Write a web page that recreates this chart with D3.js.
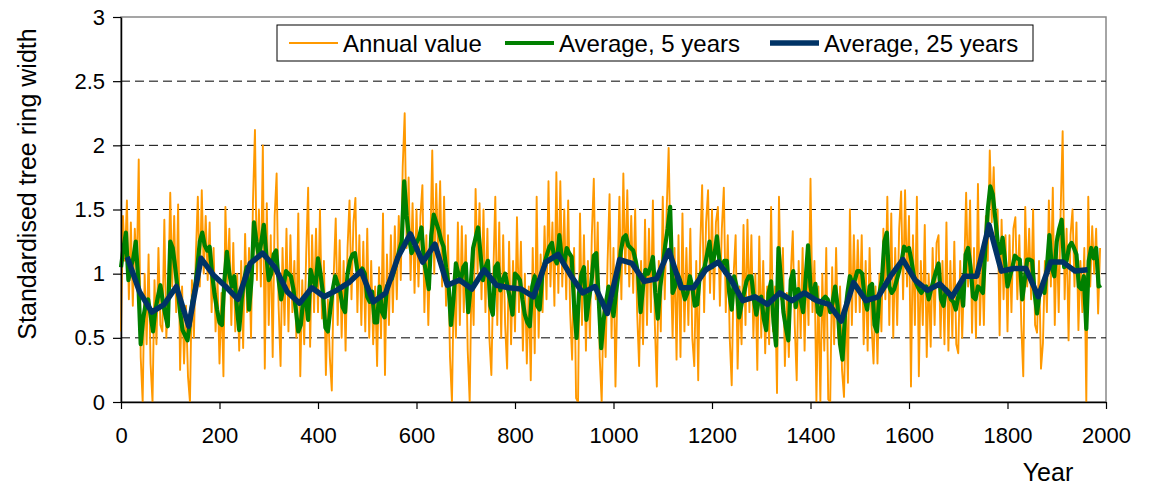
<!DOCTYPE html>
<html>
<head>
<meta charset="utf-8">
<script src="https://cdn.jsdelivr.net/npm/d3@7"></script>
<style>
	body { margin: 0; background: #fff; }
	text { font-family: "Liberation Sans", Arial, sans-serif; }
</style>
</head>
<body>
<svg id="chart" width="1149" height="487"></svg>
<script>
// annual values, every 4th year
const annualStep = 4;
const annualValues = [
	0.55,1.45,1.1,1.57,0.8,1.4,0.75,1.35,1.0,1.89,0.35,0.0,1.0,0.45,1.15,0.3,0.0,0.95,0.45,1.2,0.6,0.55,1.42,0.5,0.85,
	1.63,0.9,1.45,0.7,1.54,0.25,0.9,0.3,0.75,0.2,0.0,0.95,0.5,1.15,1.6,0.9,1.65,1.0,1.45,0.95,1.4,0.7,1.2,0.55,0.95,
	0.3,0.85,0.2,1.52,0.9,1.35,0.6,1.24,0.55,1.0,0.4,1.1,0.42,1.31,0.7,1.2,0.5,1.57,2.12,0.95,1.5,0.9,2.0,0.26,1.55,
	0.6,1.3,0.35,1.45,1.78,0.75,0.28,1.2,0.6,1.35,0.55,1.3,0.7,1.1,0.5,1.47,0.2,0.95,0.45,1.15,1.67,0.43,1.3,0.7,1.35,
	0.7,1.5,0.65,1.1,0.21,0.8,0.35,0.09,1.0,1.43,0.6,1.26,0.5,1.1,0.4,1.2,1.57,0.8,1.4,1.59,0.7,1.3,0.6,1.25,0.55,
	1.35,0.5,1.1,0.45,0.9,0.28,1.05,0.5,1.47,0.21,1.15,0.6,1.3,0.7,1.37,0.8,1.45,0.95,1.83,2.25,1.2,1.75,0.95,1.55,0.85,
	1.5,0.9,1.45,1.69,0.7,1.3,0.6,1.2,1.96,1.0,1.7,1.1,1.72,0.9,1.6,0.75,1.3,0.35,0.0,1.0,0.5,1.4,0.6,1.37,0.7,
	1.3,0.4,0.0,1.05,0.6,1.66,1.0,1.55,0.8,1.5,0.7,1.35,0.5,0.21,1.0,1.6,0.6,1.4,0.5,1.3,0.6,0.26,1.25,0.45,1.1,
	0.55,1.44,0.7,1.25,0.4,1.0,0.3,0.9,0.17,1.2,0.38,1.6,0.5,1.15,0.7,1.37,0.8,1.72,0.9,1.4,0.75,1.79,0.85,1.72,0.9,
	1.5,0.8,1.57,0.7,0.33,1.2,0.03,0.0,1.47,0.6,1.3,0.4,1.1,0.5,1.3,1.74,0.8,1.4,0.35,0.0,0.8,0.35,1.1,1.62,0.5,
	1.2,0.12,0.9,1.6,0.8,1.78,1.0,1.65,0.9,1.45,0.85,1.5,0.7,0.28,1.1,0.45,1.42,0.6,1.35,0.7,1.57,0.6,0.12,1.1,0.55,
	1.6,0.8,1.5,1.98,1.1,0.5,1.2,0.33,1.3,0.35,1.47,0.55,1.2,0.6,1.35,0.5,0.28,1.1,0.17,1.2,1.69,0.7,1.4,1.65,0.85,
	1.5,0.8,1.4,1.52,0.75,1.35,1.67,0.7,1.3,0.5,0.13,1.0,1.3,0.26,0.9,0.45,1.38,0.6,1.42,0.7,1.3,0.5,1.0,0.25,1.29,
	0.5,1.1,0.38,0.9,0.45,1.52,0.55,0.9,0.07,1.6,0.8,1.2,0.28,0.85,0.35,1.0,1.33,0.6,0.17,1.1,0.5,1.2,0.4,1.1,0.6,
	1.74,0.7,1.1,0.0,0.9,0.0,1.0,0.4,1.2,0.02,0.0,1.05,0.45,1.2,0.5,0.9,0.25,0.04,0.8,0.15,1.5,0.6,1.3,0.7,1.26,
	0.7,1.3,0.45,1.1,0.4,1.2,0.6,0.3,0.9,0.3,1.0,0.55,1.35,0.8,1.6,0.6,1.47,0.5,1.2,0.6,1.35,1.64,0.8,1.65,0.9,
	1.45,0.12,1.3,0.6,1.6,0.2,1.1,0.6,1.38,0.35,1.0,0.43,1.2,0.6,1.24,1.3,0.5,1.1,0.45,1.4,0.4,1.1,0.5,1.25,0.45,
	0.38,1.1,0.5,1.0,1.63,0.9,1.57,0.54,1.2,0.5,1.7,0.6,1.15,0.6,1.45,1.1,1.96,1.4,1.83,1.2,1.5,0.52,1.42,0.8,1.3,
	0.55,1.3,0.7,1.35,1.44,0.8,1.3,0.6,0.2,1.52,0.9,1.35,0.8,1.5,0.6,0.54,1.1,0.26,0.46,1.1,0.7,1.57,0.9,1.67,0.6,
	1.3,0.7,1.5,2.11,0.8,1.35,0.48,1.3,1.5,0.9,1.4,0.56,1.1,0.7,1.2,0.0,1.6,0.9,1.37,1.0,1.35,0.69,1.2
];

// 5 year average, one value every 5 years from year 0
const avg5Step = 5;
const avg5Values = [
	1.05,1.2,1.32,0.95,1.05,1.12,1.25,0.95,0.45,0.65,0.76,0.8,0.68,0.55,0.72,0.82,0.91,0.78,0.68,0.59,
	1.25,1.2,1.05,0.88,0.7,0.56,0.52,0.48,0.62,0.78,0.88,1.05,1.25,1.32,1.22,1.18,1.21,1.0,0.84,0.72,
	0.62,0.6,0.95,1.17,1.0,0.9,0.98,0.75,0.56,0.8,0.95,1.05,0.72,0.95,1.4,1.25,1.13,1.25,1.38,1.15,
	0.95,1.0,1.15,1.18,0.95,0.8,0.9,1.02,1.0,0.98,0.88,0.72,0.55,0.6,0.8,0.82,0.64,1.03,0.95,0.9,
	1.12,1.0,0.85,0.58,0.55,0.72,0.88,0.98,0.92,0.86,0.74,0.7,1.0,1.1,1.15,1.16,1.02,1.0,1.04,1.0,
	0.82,0.78,0.86,0.62,0.62,0.9,0.7,0.66,0.9,0.94,0.96,1.03,1.1,1.18,1.25,1.72,1.45,1.28,1.16,1.2,
	1.24,1.28,1.36,1.1,1.0,0.88,1.3,1.46,1.4,1.34,1.26,1.21,1.05,0.92,0.6,0.8,1.08,1.0,0.94,1.05,
	1.08,0.7,0.9,1.2,1.28,1.36,1.15,0.95,1.05,1.1,0.75,0.68,1.05,1.08,0.87,0.95,1.0,0.9,0.8,0.68,
	1.0,0.98,0.95,0.8,0.68,0.62,0.59,0.9,0.98,0.75,0.72,0.98,1.08,1.15,1.21,1.24,1.12,1.08,1.3,1.12,
	1.08,1.2,1.16,1.13,0.75,0.5,0.85,1.0,1.05,0.64,0.8,0.92,1.14,1.16,0.8,0.42,0.64,0.78,0.9,0.8,
	0.67,0.85,1.0,1.18,1.28,1.3,1.22,1.2,1.18,1.1,1.0,0.7,0.9,1.03,1.0,1.05,1.13,0.85,0.65,0.9,
	1.05,1.22,1.35,1.52,0.85,0.9,1.0,0.95,0.88,0.8,0.85,0.98,0.9,0.75,0.76,0.98,1.02,1.05,1.15,1.25,
	1.05,1.15,1.29,1.1,1.05,1.1,1.1,0.85,0.72,0.98,0.9,0.66,0.76,0.85,0.94,0.98,0.98,0.8,0.68,0.8,
	0.82,0.65,0.56,0.85,0.94,0.62,0.44,1.2,0.95,0.7,0.58,0.48,0.95,1.02,0.74,0.88,0.8,0.7,0.95,1.22,
	0.9,0.8,0.92,0.7,0.68,0.8,0.82,0.8,0.7,0.78,0.9,0.75,0.45,0.33,0.68,0.85,0.98,0.92,0.95,1.02,
	1.02,1.0,0.8,0.72,0.9,0.92,0.6,0.55,0.85,0.95,1.25,1.32,0.9,0.85,0.88,0.95,1.02,1.1,1.21,1.18,
	1.2,1.1,0.98,0.92,0.88,0.85,0.88,0.9,0.8,0.88,0.95,1.02,1.08,0.8,0.75,0.88,0.86,0.8,0.78,0.72,
	0.82,0.9,0.75,1.15,1.2,1.05,0.82,0.8,0.9,0.88,0.85,1.2,1.5,1.68,1.62,1.44,1.25,1.16,1.28,1.1,
	0.9,0.98,1.05,1.14,1.12,1.11,0.8,0.95,1.11,1.11,1.1,0.85,0.69,0.85,0.9,0.85,1.05,1.3,1.05,0.98,
	1.25,1.35,1.42,1.05,1.1,1.21,1.24,1.2,1.15,0.9,0.88,0.98,0.57,1.1,1.2,1.12,1.2,0.9,0.91
];

// 25 year average, centred on each 25 year block
const avg25Start = 12.5;
const avg25Step = 25;
const avg25Values = [
	1.13,0.86,0.70,0.76,0.90,0.59,1.12,0.99,0.90,0.80,1.08,1.16,1.05,0.86,0.77,0.89,0.82,0.87,0.93,1.02,
	0.78,0.85,1.13,1.31,1.09,1.23,0.91,0.95,0.88,1.03,0.91,0.89,0.88,0.82,1.09,1.15,0.99,0.85,0.90,0.69,
	1.11,1.08,0.94,0.96,1.18,0.89,0.89,1.03,1.09,0.96,0.79,0.82,0.76,0.85,0.79,0.85,0.79,0.76,0.63,0.93,
	0.79,0.82,0.98,1.11,0.95,0.87,0.92,0.82,0.98,0.98,1.38,1.02,1.04,1.04,0.82,1.09,1.09,1.02,1.03
];

const xTicks = [0, 200, 400, 600, 800, 1000, 1200, 1400, 1600, 1800, 2000];
const yTicks = [0, 0.5, 1, 1.5, 2, 2.5, 3];
const legendLabels = ["Annual value", "Average, 5 years", "Average, 25 years"];

const colors = ["#ff9900", "#008000", "#003366"];
const widths = [1.9, 4.2, 5.5];

const svg = d3.select("#chart");
const plotLeft = 121, plotRight = 1106, plotTop = 17, plotBottom = 402;

const x = d3.scaleLinear().domain([0, 2000]).range([plotLeft, plotRight]);
const y = d3.scaleLinear().domain([0, 3]).range([plotBottom, plotTop]);

// plot area border
svg.append("rect")
	.attr("x", plotLeft).attr("y", plotTop)
	.attr("width", plotRight - plotLeft).attr("height", plotBottom - plotTop)
	.attr("fill", "none").attr("stroke", "#888").attr("stroke-width", 1.5);

// dashed grid lines
svg.append("g")
	.selectAll("line")
	.data(yTicks.filter((d) => d > 0 && d < 3))
	.join("line")
	.attr("x1", plotLeft).attr("x2", plotRight)
	.attr("y1", (d) => y(d)).attr("y2", (d) => y(d))
	.attr("stroke", "#000").attr("stroke-width", 1)
	.attr("stroke-dasharray", "9,5");

const series = [
	annualValues.map((v, i) => ({ year: i * annualStep, v })),
	avg5Values.map((v, i) => ({ year: i * avg5Step, v })),
	avg25Values.map((v, i) => ({ year: avg25Start + i * avg25Step, v })),
];

const line = d3.line().x((d) => x(d.year)).y((d) => y(d.v));

series.forEach((data, i) => {
	svg.append("path")
		.attr("d", line(data))
		.attr("fill", "none")
		.attr("stroke", colors[i])
		.attr("stroke-width", widths[i])
		.attr("stroke-linejoin", "round");
});

// axes
const xAxis = svg.append("g")
	.attr("transform", `translate(0,${plotBottom})`)
	.call(d3.axisBottom(x).tickValues(xTicks).tickSize(7).tickSizeOuter(0).tickPadding(18).tickFormat(d3.format("d")));
const yAxis = svg.append("g")
	.attr("transform", `translate(${plotLeft},0)`)
	.call(d3.axisLeft(y).tickValues(yTicks).tickSize(8).tickSizeOuter(0).tickPadding(8).tickFormat((d) => String(d)));

[xAxis, yAxis].forEach((a) => {
	a.select(".domain").attr("stroke", "#000").attr("stroke-width", 1.5);
	a.selectAll(".tick line").attr("stroke", "#000").attr("stroke-width", 1.2);
	a.selectAll(".tick text")
		.attr("font-size", "22px")
		.attr("fill", "#000")
		.attr("font-family", "'Liberation Sans', Arial, sans-serif");
});

svg.append("text")
	.attr("x", 1048).attr("y", 481)
	.attr("text-anchor", "middle")
	.attr("font-size", "25px")
	.text("Year");

svg.append("text")
	.attr("transform", "translate(36,184) rotate(-90)")
	.attr("text-anchor", "middle")
	.attr("font-size", "25px")
	.text("Standardised tree ring width");

// legend
const legend = svg.append("g");
legend.append("rect")
	.attr("x", 277).attr("y", 25)
	.attr("width", 756).attr("height", 36)
	.attr("fill", "#fff").attr("stroke", "#000").attr("stroke-width", 1);

const legendX = [289, 505, 770];
legendLabels.forEach((label, i) => {
	legend.append("line")
		.attr("x1", legendX[i]).attr("x2", legendX[i] + 49)
		.attr("y1", 43).attr("y2", 43)
		.attr("stroke", colors[i])
		.attr("stroke-width", widths[i]);
	legend.append("text")
		.attr("x", legendX[i] + 54).attr("y", 52)
		.attr("font-size", "24px")
		.text(label);
});
</script>
</body>
</html>
